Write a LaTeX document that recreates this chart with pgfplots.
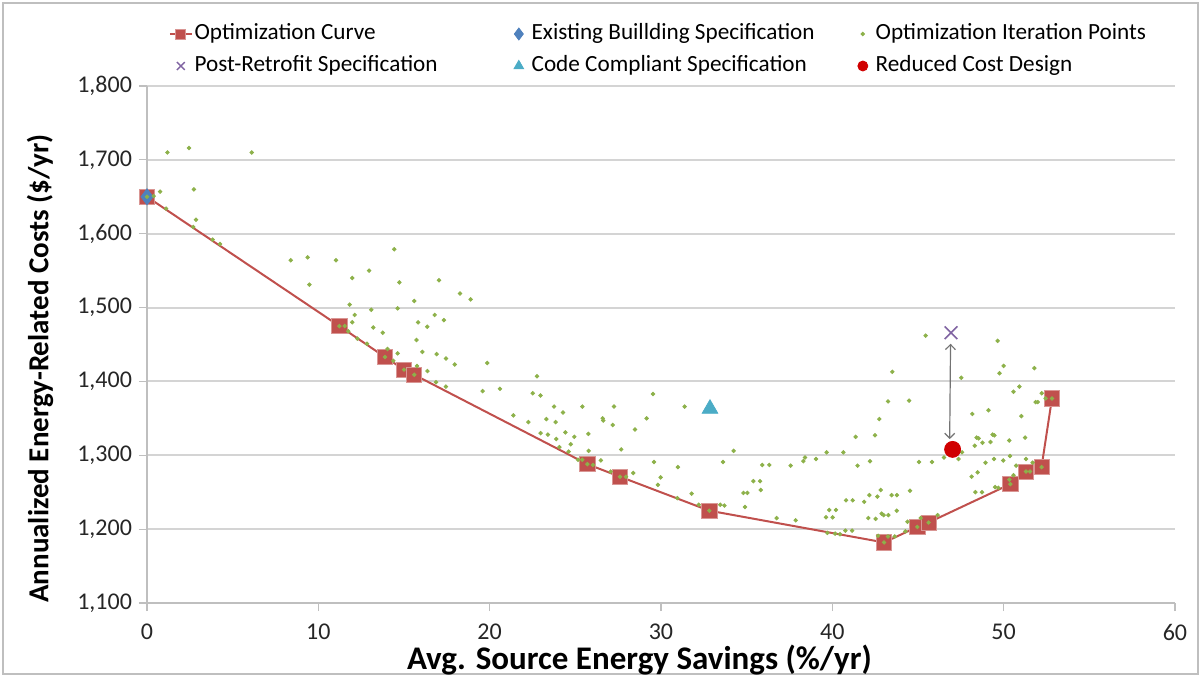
\documentclass[border=0pt]{standalone}
\usepackage{fontspec}
\setmainfont{Carlito}
\usepackage{pgfplots}
\pgfplotsset{compat=1.18}
\usetikzlibrary{arrows.meta}
\definecolor{curvered}{HTML}{C0504D}
\definecolor{exblue}{HTML}{4F81BD}
\definecolor{itgreen}{HTML}{8DB14A}
\definecolor{prpurple}{HTML}{8064A2}
\definecolor{ccteal}{HTML}{4BACC6}
\definecolor{rcred}{HTML}{D00000}
\definecolor{gridgray}{HTML}{D4D4D4}
\definecolor{axgray}{HTML}{BFBFBF}

\pgfplotstableread{
x y
0 1650
11.23 1475
13.89 1433
15.0 1416
15.6 1409
25.7 1288
27.61 1271
32.82 1225
43.02 1182
44.96 1203
45.62 1209
50.39 1261
51.30 1278
52.21 1284
52.82 1377
}\curvedata

\pgfplotstableread{
x y
1.19 1710
2.45 1716
6.11 1710
0.76 1657
0.39 1651
2.74 1660
1.11 1634
2.86 1619
2.70 1609
3.83 1592
4.26 1586
8.39 1564
9.38 1568
11.03 1564
14.43 1579
9.48 1531
11.98 1540
12.96 1550
14.73 1534
17.04 1537
18.27 1519
18.89 1511
11.83 1504
12.12 1490
13.09 1497
14.63 1499
15.60 1509
16.79 1490
17.33 1483
11.98 1480
11.54 1475
13.21 1473
13.76 1466
15.82 1480
16.36 1474
11.75 1468
12.28 1458
12.84 1451
14.04 1444
14.63 1438
14.38 1428
15.73 1456
16.07 1440
16.91 1437
17.45 1431
17.96 1423
19.86 1425
16.37 1414
15.76 1421
16.87 1399
17.45 1393
19.59 1387
20.60 1390
22.76 1407
22.51 1384
22.97 1381
21.38 1354
22.26 1345
23.31 1349
23.85 1345
23.76 1366
24.28 1358
25.41 1366
26.60 1350
26.63 1347
27.26 1366
27.18 1341
29.53 1383
31.38 1366
29.16 1350
28.48 1335
22.97 1330
23.40 1328
24.42 1331
24.94 1325
23.89 1322
24.73 1315
24.07 1311
25.76 1329
25.78 1306
24.61 1305
27.68 1308
26.49 1293
26.03 1287
29.59 1291
30.99 1284
29.98 1270
29.82 1260
28.38 1276
27.06 1278
27.96 1271
31.79 1248
30.95 1242
32.20 1233
25.16 1294
25.40 1294
34.24 1306
33.62 1291
33.46 1233
33.70 1232
34.81 1249
35.04 1249
34.90 1230
35.39 1265
35.78 1265
35.82 1253
35.91 1287
36.32 1287
36.75 1215
37.57 1286
37.86 1212
38.31 1292
38.41 1297
39.05 1295
39.67 1304
39.63 1216
40.02 1216
39.82 1226
40.21 1226
39.71 1195
40.16 1194
40.45 1193
40.76 1198
41.15 1198
40.80 1239
41.19 1239
40.64 1304
41.36 1325
41.47 1286
41.86 1237
42.10 1215
42.53 1214
42.16 1246
42.20 1292
42.49 1327
42.63 1244
42.74 1349
42.82 1253
42.88 1221
43.00 1219
43.27 1219
43.25 1373
43.50 1413
43.46 1246
43.77 1246
43.76 1225
42.67 1191
43.25 1190
43.64 1190
44.39 1210
44.53 1252
44.48 1374
44.26 1197
45.16 1215
45.06 1291
45.82 1291
46.15 1219
46.52 1297
47.37 1295
47.57 1304
47.53 1405
48.13 1271
48.17 1356
48.35 1250
48.74 1250
48.48 1277
48.31 1313
48.42 1324
48.54 1323
48.76 1317
48.94 1290
49.11 1361
49.23 1318
49.35 1328
49.46 1327
49.44 1295
49.50 1257
49.69 1256
49.76 1411
50.00 1421
49.65 1455
45.45 1462
49.98 1293
50.33 1320
50.37 1299
50.57 1386
50.73 1286
50.57 1273
50.92 1393
51.03 1353
51.25 1324
51.30 1295
51.54 1278
51.69 1290
51.79 1418
51.87 1372
51.99 1372
52.22 1384
52.45 1377
50.33 1267
0 1650
11.23 1475
13.89 1433
15.0 1416
15.6 1409
25.7 1288
27.61 1271
32.82 1225
43.02 1182
44.96 1203
45.62 1209
50.39 1261
51.30 1278
52.21 1284
52.82 1377
}\iterdata

\begin{document}
\begin{tikzpicture}
\useasboundingbox (-73.5pt,-37pt) rectangle (527pt,301.5pt);
\draw[axgray, line width=0.6pt] (-72pt,-35.5pt) rectangle (525.5pt,300pt);
\begin{axis}[
  at={(0pt,0pt)}, anchor=south west,
  scale only axis, width=514pt, height=258.5pt,
  xmin=0, xmax=60, ymin=1100, ymax=1800,
  xtick={0,10,...,60}, ytick={1100,1200,...,1800},
  axis x line*=bottom, axis y line*=left,
  axis line style={axgray, line width=0.8pt},
  ymajorgrids, major grid style={gridgray, line width=1pt},
  tick style={axgray, line width=0.6pt},
  tick align=outside, major tick length=4pt,
  clip=false,
  /pgf/number format/.cd, 1000 sep={,}, assume math mode=true,
  /pgfplots/.cd,
  ticklabel style={font=\fontsize{12}{14}\selectfont, text=black!85},
  xticklabel style={yshift=-3pt},
  yticklabel style={xshift=0pt},
  xlabel={\textbf{Avg. Source Energy Savings (\%/yr)}},
  ylabel={\textbf{Annualized Energy-Related Costs (\$/yr)}},
  xlabel style={font=\fontsize{16.5}{19}\selectfont, at={(axis description cs:0.479,-0.110)}, anchor=center},
  ylabel style={font=\fontsize{14.5}{17}\selectfont, at={(axis description cs:-0.1041,0.4536)}, anchor=center},
  legend columns=3,
  legend cell align=left,
  legend style={at={(axis description cs:0.0214,1.1277)}, anchor=north west,
    draw=none, fill=none, inner sep=0pt, outer sep=0pt,
    font=\fontsize{11.6}{13}\selectfont,
    column sep=0pt, row sep=2pt,
    nodes={inner sep=1pt, text height=9pt, text depth=3pt}},
  legend image code/.code={%
    \path[draw=none, fill=none] (0cm,-0.12cm) rectangle (0.38cm,0.12cm);
    \draw[mark repeat=2,mark phase=2,#1] plot coordinates {(0cm,0cm) (0.19cm,0cm) (0.38cm,0cm)};},
]
\addplot[curvered, line width=1pt, mark=square*, mark size=3.8pt,
  mark options={fill=curvered, draw=curvered!60!white, line width=0.4pt},
  legend image post style={mark size=2.5pt}] table {\curvedata};
\addlegendentry{\makebox[155.7pt][l]{Optimization Curve}}
\addplot[only marks, mark=diamond*, mark size=4pt, color=exblue,
  legend image post style={mark size=3pt}] coordinates {(0,1650)};
\addlegendentry{\makebox[159.2pt][l]{Existing Buillding Specification}}
\addplot[only marks, mark=*, mark size=0.9pt, color=itgreen] table {\iterdata};
\addlegendentry{Optimization Iteration Points}
\addplot[only marks, mark=x, mark size=4.5pt, color=prpurple, line width=0.8pt,
  legend image post style={mark size=2.8pt, line width=0.7pt}] coordinates {(46.93,1466)};
\addlegendentry{\makebox[155.7pt][l]{Post-Retrofit Specification}}
\addplot[only marks, mark=triangle*, mark size=4.5pt, color=ccteal,
  legend image post style={mark size=2.8pt}] coordinates {(32.86,1363)};
\addlegendentry{\makebox[159.2pt][l]{Code Compliant Specification}}
\addplot[only marks, mark=*, mark size=4pt, color=rcred,
  legend image post style={mark size=2.5pt}] coordinates {(47.02,1308)};
\addlegendentry{Reduced Cost Design}
\draw[{Straight Barb[length=2.5pt]}-{Straight Barb[length=2.5pt]}, black!55, line width=0.6pt]
  (axis cs:46.9,1451) -- (axis cs:46.85,1322);
\end{axis}
\end{tikzpicture}
\end{document}
